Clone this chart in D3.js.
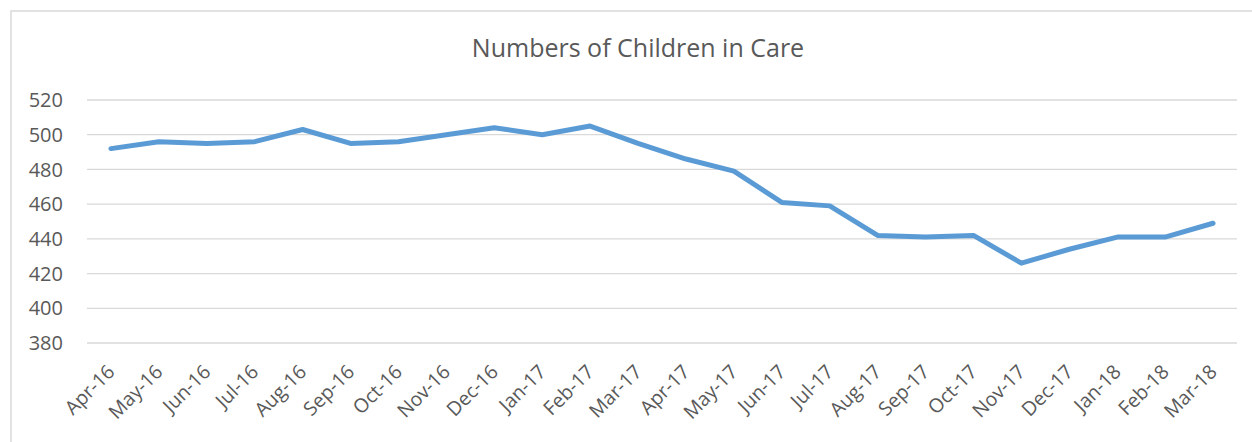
<!DOCTYPE html>
<html>
<head>
<meta charset="utf-8">
<script src="https://cdn.jsdelivr.net/npm/d3@7"></script>
<style>
  body { margin: 0; background: #fff; }
  text { font-family: "Open Sans", sans-serif; fill: #595959; }
</style>
</head>
<body>
<script>
var months = ["Apr-16", "May-16", "Jun-16", "Jul-16", "Aug-16", "Sep-16", "Oct-16", "Nov-16",
    "Dec-16", "Jan-17", "Feb-17", "Mar-17", "Apr-17", "May-17", "Jun-17", "Jul-17",
    "Aug-17", "Sep-17", "Oct-17", "Nov-17", "Dec-17", "Jan-18", "Feb-18", "Mar-18"];
var children = [492, 496, 495, 496, 503, 495, 496, 500, 504, 500, 505, 495,
    486, 479, 461, 459, 442, 441, 442, 426, 434, 441, 441, 449];
var yTicks = [380, 400, 420, 440, 460, 480, 500, 520];
var title = "Numbers of Children in Care";

var width = 1252,
    height = 442,
    margin = { top: 100, right: 15, bottom: 99, left: 87 };

var svg = d3.select("body").append("svg")
    .attr("width", width)
    .attr("height", height);

// chart frame
svg.append("rect")
    .attr("x", 11).attr("y", 11)
    .attr("width", width + 10).attr("height", height + 10)
    .attr("fill", "none")
    .attr("stroke", "#d9d9d9")
    .attr("stroke-width", 1.5);

svg.append("text")
    .attr("x", 638)
    .attr("y", 57)
    .attr("text-anchor", "middle")
    .style("font-size", "25px")
    .text(title);

var x = d3.scaleBand()
    .domain(months)
    .range([margin.left, width - margin.right]);

var y = d3.scaleLinear()
    .domain([380, 520])
    .range([height - margin.bottom, margin.top]);

// gridlines
svg.append("g")
    .selectAll("line")
    .data(yTicks)
    .enter().append("line")
    .attr("x1", margin.left)
    .attr("x2", width - margin.right)
    .attr("y1", function (d) { return y(d); })
    .attr("y2", function (d) { return y(d); })
    .attr("stroke", "#d9d9d9")
    .attr("stroke-width", 1.3);

// y labels
svg.append("g")
    .selectAll("text")
    .data(yTicks)
    .enter().append("text")
    .attr("x", 63)
    .attr("y", function (d) { return y(d); })
    .attr("dy", "0.36em")
    .attr("text-anchor", "end")
    .style("font-size", "20px")
    .text(function (d) { return d; });

// x labels
svg.append("g")
    .selectAll("text")
    .data(months)
    .enter().append("text")
    .attr("text-anchor", "end")
    .attr("transform", function (d) {
        return "translate(" + (x(d) + x.bandwidth() / 2 + 5) + ",373) rotate(-45)";
    })
    .style("font-size", "19.5px")
    .text(function (d) { return d; });

var line = d3.line()
    .x(function (d, i) { return x(months[i]) + x.bandwidth() / 2; })
    .y(function (d) { return y(d); });

svg.append("path")
    .datum(children)
    .attr("d", line)
    .attr("fill", "none")
    .attr("stroke", "#5b9bd5")
    .attr("stroke-width", 5)
    .attr("stroke-linejoin", "round")
    .attr("stroke-linecap", "round");
</script>
</body>
</html>
